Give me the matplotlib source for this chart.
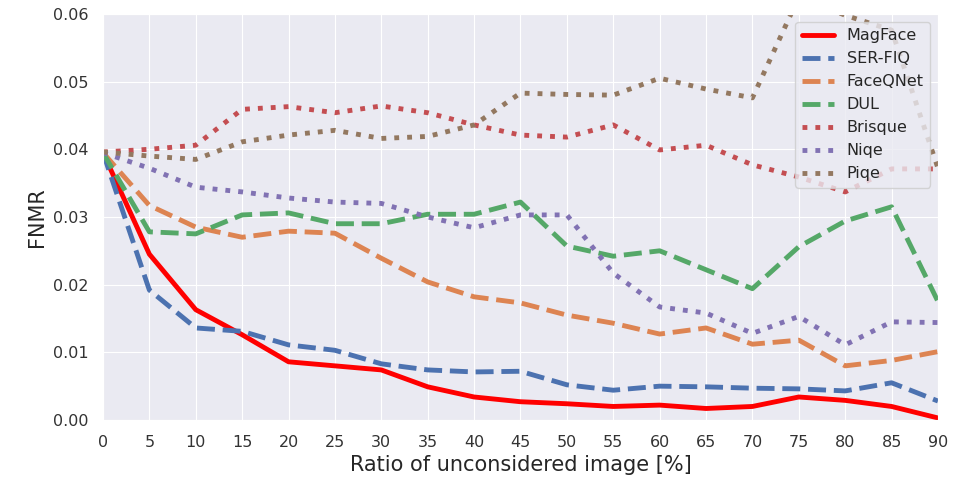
import matplotlib
matplotlib.use("Agg")
import matplotlib.pyplot as plt
import seaborn as sns

sns.set_style("darkgrid")
plt.rcParams['font.family'] = ['DejaVu Sans']

ratios = list(range(0, 95, 5))

magface = [0.0395, 0.0245, 0.0163, 0.0126, 0.0086, 0.0080, 0.0074, 0.0049, 0.0034, 0.0027,
           0.0024, 0.0020, 0.0022, 0.0017, 0.0020, 0.0034, 0.0029, 0.0020, 0.0003]
ser_fiq = [0.0395, 0.0192, 0.0136, 0.0131, 0.0111, 0.0103, 0.0083, 0.0074, 0.0071, 0.0072,
           0.0052, 0.0044, 0.0050, 0.0049, 0.0047, 0.0046, 0.0043, 0.0055, 0.0028]
faceqnet = [0.0395, 0.0317, 0.0285, 0.0270, 0.0279, 0.0276, 0.0239, 0.0204, 0.0182, 0.0173,
            0.0155, 0.0143, 0.0127, 0.0136, 0.0112, 0.0118, 0.0080, 0.0088, 0.0101]
dul = [0.0395, 0.0278, 0.0275, 0.0303, 0.0306, 0.0290, 0.0290, 0.0304, 0.0304, 0.0322,
       0.0257, 0.0242, 0.0250, 0.0222, 0.0194, 0.0256, 0.0294, 0.0315, 0.0175]
brisque = [0.0396, 0.0400, 0.0406, 0.0459, 0.0463, 0.0454, 0.0464, 0.0454, 0.0436, 0.0421,
           0.0418, 0.0436, 0.0399, 0.0406, 0.0377, 0.0359, 0.0337, 0.0371, 0.0371]
niqe = [0.0395, 0.0372, 0.0344, 0.0337, 0.0328, 0.0322, 0.0320, 0.0300, 0.0284, 0.0303,
        0.0303, 0.0217, 0.0167, 0.0158, 0.0128, 0.0153, 0.0111, 0.0145, 0.0144]
piqe = [0.0396, 0.0390, 0.0385, 0.0411, 0.0421, 0.0428, 0.0416, 0.0419, 0.0436, 0.0483,
        0.0481, 0.0480, 0.0505, 0.0489, 0.0476, 0.0625, 0.0598, 0.0576, 0.0372]

deep = sns.color_palette("deep")

fig, ax = plt.subplots(figsize=(9.66, 4.8), dpi=100)
fig.subplots_adjust(left=0.1066, right=0.971, top=0.971, bottom=0.125)

lw = 3.5
ax.plot(ratios, magface, color="red", lw=lw, ls="-", label="MagFace")
ax.plot(ratios, ser_fiq, color=deep[0], lw=lw, ls="--", label="SER-FIQ")
ax.plot(ratios, faceqnet, color=deep[1], lw=lw, ls="--", label="FaceQNet")
ax.plot(ratios, dul, color=deep[2], lw=lw, ls="--", label="DUL")
ax.plot(ratios, brisque, color=deep[3], lw=lw, ls=":", label="Brisque")
ax.plot(ratios, niqe, color=deep[4], lw=lw, ls=":", label="Niqe")
ax.plot(ratios, piqe, color=deep[5], lw=lw, ls=":", label="Piqe")

ax.set_xlim(0, 90)
ax.set_ylim(0, 0.06)
ax.set_xticks(ratios)
ax.set_yticks([0, 0.01, 0.02, 0.03, 0.04, 0.05, 0.06])
ax.set_yticklabels(["0.00", "0.01", "0.02", "0.03", "0.04", "0.05", "0.06"])
ax.tick_params(labelsize=11.5, colors="#333333", pad=7)
ax.set_xlabel("Ratio of unconsidered image [%]", fontsize=15, color="#262626")
ax.set_ylabel("FNMR", fontsize=15, color="#262626")
ax.legend(loc="upper right", fontsize=11.5)

fig.savefig("out.png", dpi=100)
